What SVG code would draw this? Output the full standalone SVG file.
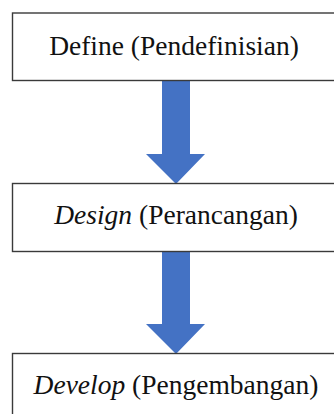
<svg xmlns="http://www.w3.org/2000/svg" width="334" height="414" viewBox="0 0 334 414">
<style>
.box{fill:#fff;stroke:#3a3a3a;stroke-width:1.4}
.t{font-family:"Liberation Serif","Times New Roman",serif;font-size:27.5px;fill:#111;text-anchor:middle}
.arr{fill:#4472C4}
</style>
<rect width="334" height="414" fill="#fff"/>
<g id="connectors">
<polygon class="arr" points="162,81 190,81 190,154 205,154 176,184 146,154 162,154"/>
<polygon class="arr" points="162,252 190,252 190,324 205,324 176,354 146,324 162,324"/>
</g>
<g id="define">
<rect class="box" x="12.5" y="13" width="340" height="67.5"/>
<text class="t" x="174" y="55">Define (Pendefinisian)</text>
</g>
<g id="design">
<rect class="box" x="12.5" y="183.5" width="340" height="68"/>
<text class="t" x="176" y="224"><tspan font-style="italic">Design</tspan> (Perancangan)</text>
</g>
<g id="develop">
<rect class="box" x="12.5" y="353.5" width="340" height="80"/>
<text class="t" x="176" y="394"><tspan font-style="italic">Develop</tspan> (Pengembangan)</text>
</g>
</svg>
